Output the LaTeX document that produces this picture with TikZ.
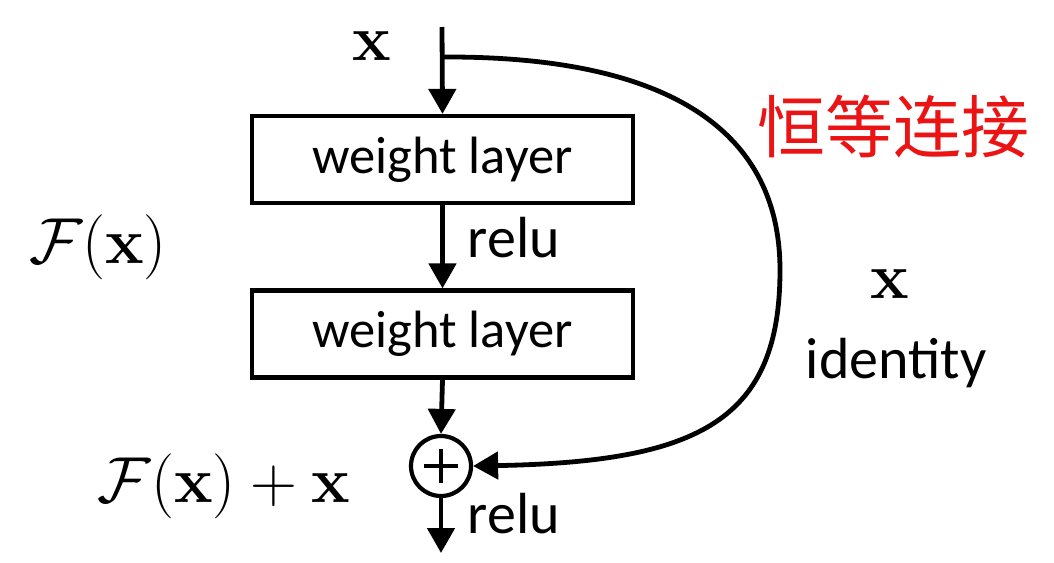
\RequirePackage{fix-cm}
\documentclass[tikz,border=0pt]{standalone}
\usepackage[no-math]{fontspec}
\setmainfont{Carlito}
\newfontfamily\cjk{Noto Sans CJK SC}
\usetikzlibrary{arrows.meta}
\definecolor{labelred}{RGB}{235,20,20}
\begin{document}
\begin{tikzpicture}[x=1pt,y=-1pt,
  line width=4.8pt,
  arr/.style={-{Triangle[width=27pt,length=25pt]}},
  layerbox/.style={draw,line width=4.2pt,minimum width=381pt,minimum height=87pt,inner sep=0pt,
     font=\fontsize{52.5}{60}\selectfont},
  lbl/.style={font=\fontsize{58}{62}\selectfont,anchor=base,inner sep=0pt},
  mlbl/.style={font=\fontsize{65}{70}\selectfont,anchor=base,inner sep=0pt},
  addnode/.style={draw,circle,line width=4.2pt,minimum size=60pt,inner sep=0pt}]
\useasboundingbox (0,0) rectangle (1054,562);
\coordinate (in) at (442,27);
\coordinate (split) at (442,57);
\node[layerbox] (l1) at (442.5,159.5) {weight layer};
\node[layerbox] (l2) at (442.5,334) {weight layer};
\node[addnode] (add) at (441,466) {};
\draw[line width=4.2pt] (add.center)+(-17,0) -- +(17,0);
\draw[line width=4.2pt] (add.center)+(0,-17) -- +(0,17);
\coordinate (out) at (441,553);
\draw[arr] (in) -- (l1.north);
\draw[arr] (l1.south) -- (l2.north);
\draw[arr] (l2.south) -- (add.north);
\draw[arr] (add.south) -- (out);
\draw[arr] (split) -- (452,57) .. controls (690,58) and (780,145) .. (780,270)
   .. controls (780,420) and (700,462) .. (add.east);
\node[mlbl] (xin) at (372,60) {$\mathbf{x}$};
\node[mlbl] (fx) at (98,263) {$\mathcal{F}(\mathbf{x})$};
\node[mlbl] (fxx) at (224,502) {$\mathcal{F}(\mathbf{x})+\mathbf{x}$};
\node[mlbl] (xid) at (890,298) {$\mathbf{x}$};
\node[lbl] (ident) at (896,378) {identity};
\node[lbl] (relu1) at (514,257) {relu};
\node[lbl] (relu2) at (514,533) {relu};
\node[font=\cjk\fontsize{68}{72}\selectfont,text=labelred,inner sep=0pt] (cn) at (893,127) {恒等连接};
\end{tikzpicture}
\end{document}
